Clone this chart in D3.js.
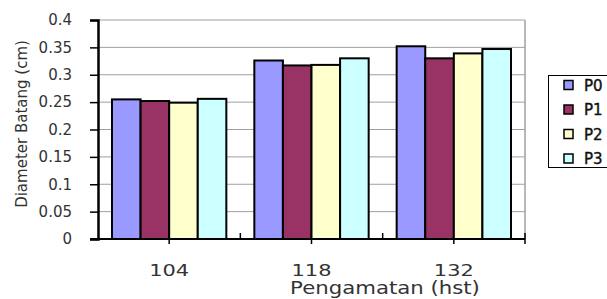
<!DOCTYPE html>
<html>
<head>
<meta charset="utf-8">
<script src="https://cdn.jsdelivr.net/npm/d3@7"></script>
<style>
  body { margin: 0; background: #fff; overflow: hidden; }
  text { font-family: "DejaVu Sans", Verdana, sans-serif; }
</style>
</head>
<body>
<div id="chart"></div>
<script>
var categories = ['104', '118', '132']
var series = ['P0', 'P1', 'P2', 'P3']
var values = {
  P0: [0.255, 0.326, 0.352],
  P1: [0.252, 0.317, 0.330],
  P2: [0.249, 0.318, 0.339],
  P3: [0.256, 0.330, 0.347]
}
var colors = ['#9999ff', '#993366', '#ffffcc', '#ccffff']
var yTicks = [0, 0.05, 0.1, 0.15, 0.2, 0.25, 0.3, 0.35, 0.4]

var W = 607, H = 299
var plot = {left: 98, top: 20, right: 525, bottom: 239}

var svg = d3.select('#chart').append('svg')
    .attr('width', W).attr('height', H)

var x = d3.scaleBand()
    .domain(categories)
    .range([plot.left, plot.right])
    .paddingInner(0).paddingOuter(0)

var x1 = d3.scaleBand()
    .domain(series)
    .range([14, x.bandwidth() - 14])

var y = d3.scaleLinear()
    .domain([0, 0.4])
    .range([plot.bottom, plot.top])

// gridlines
svg.append('g')
  .selectAll('line')
  .data(yTicks.slice(1))
  .enter().append('line')
    .attr('x1', plot.left).attr('x2', plot.right)
    .attr('y1', d => y(d)).attr('y2', d => y(d))
    .attr('stroke', '#a0a0a0').attr('stroke-width', 1)

// plot border right side (gray)
svg.append('line')
    .attr('x1', plot.right).attr('x2', plot.right)
    .attr('y1', plot.top).attr('y2', plot.bottom)
    .attr('stroke', '#a0a0a0').attr('stroke-width', 1.5)

// bars
var groups = svg.append('g').selectAll('g')
  .data(categories)
  .enter().append('g')
    .attr('transform', d => 'translate(' + x(d) + ',0)')

groups.selectAll('rect')
  .data((c, i) => series.map((s, j) => ({s: s, v: values[s][i], j: j})))
  .enter().append('rect')
    .attr('x', d => x1(d.s))
    .attr('width', x1.bandwidth())
    .attr('y', d => y(d.v))
    .attr('height', d => y(0) - y(d.v))
    .attr('fill', d => colors[d.j])
    .attr('stroke', '#000')
    .attr('stroke-width', 2)

// y axis
var yAxis = svg.append('g')
    .attr('transform', 'translate(' + plot.left + ',0)')
    .call(d3.axisLeft(y).tickValues(yTicks).tickSize(8).tickPadding(18)
      .tickFormat(d => d === 0 ? '0' : d3.format('')(+d.toFixed(2))))
yAxis.select('.domain').attr('stroke', '#000').attr('stroke-width', 2.5)
yAxis.selectAll('.tick line').attr('stroke', '#000').attr('stroke-width', 1.5)
yAxis.selectAll('.tick text')
    .attr('font-size', 15).attr('fill', '#333')
    .style('font-family', '"DejaVu Sans", sans-serif')

// x axis line
svg.append('line')
    .attr('x1', plot.left - 8).attr('x2', plot.right)
    .attr('y1', plot.bottom).attr('y2', plot.bottom)
    .attr('stroke', '#000').attr('stroke-width', 2)

// odd little tick marks, down at centres, up at inner boundaries
svg.append('g').selectAll('line')
  .data(categories)
  .enter().append('line')
    .attr('x1', d => x(d) + x.bandwidth() / 2).attr('x2', d => x(d) + x.bandwidth() / 2)
    .attr('y1', plot.bottom).attr('y2', plot.bottom + 5)
    .attr('stroke', '#000').attr('stroke-width', 1.5)
svg.append('g').selectAll('line')
  .data(categories.slice(1))
  .enter().append('line')
    .attr('x1', d => x(d)).attr('x2', d => x(d))
    .attr('y1', plot.bottom).attr('y2', plot.bottom - 6)
    .attr('stroke', '#000').attr('stroke-width', 1.5)
svg.append('line')
    .attr('x1', plot.right).attr('x2', plot.right)
    .attr('y1', plot.bottom - 6).attr('y2', plot.bottom + 5)
    .attr('stroke', '#000').attr('stroke-width', 1.5)

// x labels (source text is stretched sideways)
svg.append('g').selectAll('text')
  .data(categories)
  .enter().append('text')
    .attr('transform', d => 'translate(' + (x(d) + x.bandwidth() / 2) + ',276) scale(1.27,1)')
    .attr('text-anchor', 'middle')
    .attr('font-size', 16.5).attr('fill', '#333')
    .text(d => d)

// axis titles
svg.append('text')
    .attr('transform', 'translate(385,294) scale(1.25,1)')
    .attr('text-anchor', 'middle')
    .attr('font-size', 17).attr('fill', '#333')
    .text('Pengamatan (hst)')

svg.append('text')
    .attr('transform', 'translate(27,' + 124 + ') rotate(-90)')
    .attr('text-anchor', 'middle')
    .attr('font-size', 15).attr('fill', '#333')
    .text('Diameter Batang (cm)')

// legend
var legend = svg.append('g')
legend.append('rect')
    .attr('x', 548.5).attr('y', 75.5)
    .attr('width', 70).attr('height', 92)
    .attr('fill', '#fff').attr('stroke', '#000').attr('stroke-width', 1)

var item = legend.selectAll('g.item')
  .data(series)
  .enter().append('g')
    .attr('class', 'item')
    .attr('transform', (d, i) => 'translate(0,' + (85 + i * 24.5) + ')')
item.append('rect')
    .attr('x', 564).attr('y', -4.5)
    .attr('width', 9).attr('height', 9)
    .attr('fill', (d, i) => colors[i])
    .attr('stroke', '#000').attr('stroke-width', 1.5)
item.append('text')
    .attr('x', 584).attr('y', 5.5)
    .attr('font-size', 15).attr('fill', '#111')
    .attr('stroke', '#111').attr('stroke-width', 0.4)
    .text(d => d)
</script>
</body>
</html>
